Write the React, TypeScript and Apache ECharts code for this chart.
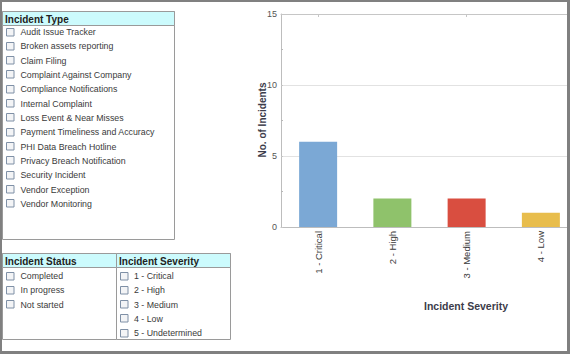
import React, { useEffect, useRef } from "react";
import * as echarts from "echarts";

const severityCategories = ["1 - Critical", "2 - High", "3 - Medium", "4 - Low"];
const incidentCounts = [6, 2, 2, 1];
const barColors = ["#7ba8d5", "#8fc26b", "#d94e40", "#e8bd4c"];

const incidentTypes = [
  "Audit Issue Tracker",
  "Broken assets reporting",
  "Claim Filing",
  "Complaint Against Company",
  "Compliance Notifications",
  "Internal Complaint",
  "Loss Event & Near Misses",
  "Payment Timeliness and Accuracy",
  "PHI Data Breach Hotline",
  "Privacy Breach Notification",
  "Security Incident",
  "Vendor Exception",
  "Vendor Monitoring",
];
const incidentStatuses = ["Completed", "In progress", "Not started"];
const incidentSeverities = ["1 - Critical", "2 - High", "3 - Medium", "4 - Low", "5 - Undetermined"];

const FONT = "'Liberation Sans', Arial, sans-serif";
const CHART_W = 580;

function panel(
  title: string,
  items: string[],
  x: number,
  y: number,
  w: number,
  h: number,
  firstRow: number,
  rowStep: number,
  textX: number
): any[] {
  const els: any[] = [];
  els.push({
    type: "rect",
    shape: { x: x + 0.5, y: y + 0.5, width: w, height: h },
    style: { fill: "#fff", stroke: "#9a9a9a", lineWidth: 1 },
    z: 1,
  });
  els.push({
    type: "rect",
    shape: { x: x + 0.5, y: y + 0.5, width: w, height: 14 },
    style: { fill: "#ccfbfd", stroke: "#9a9a9a", lineWidth: 1 },
    z: 2,
  });
  els.push({
    type: "text",
    x: x + 3,
    y: y + 8,
    style: {
      text: title,
      font: `bold 10px ${FONT}`,
      fill: "#222",
      align: "left",
      verticalAlign: "middle",
    },
    z: 3,
  });
  items.forEach((t, i) => {
    const cy = firstRow + i * rowStep;
    els.push({
      type: "rect",
      shape: { x: x + 4.5, y: Math.round(cy - 4) + 0.5, width: 7.5, height: 7.5 },
      style: { fill: "#f3f4f6", stroke: "#7f90a6", lineWidth: 1 },
      z: 3,
    });
    els.push({
      type: "text",
      x: textX,
      y: cy + 0.5,
      style: {
        text: t,
        font: `8.8px ${FONT}`,
        fill: "#3a3a3a",
        align: "left",
        verticalAlign: "middle",
      },
      z: 3,
    });
  });
  return els;
}

export default function App() {
  const ref = useRef<HTMLDivElement>(null);

  useEffect(() => {
    if (!ref.current) return;
    const chart = echarts.init(ref.current, null, { renderer: "svg" });

    const graphics: any[] = [
      ...panel("Incident Type", incidentTypes, 2, 11, 172, 228, 31.5, 14.33, 20.5),
      ...panel("Incident Status", incidentStatuses, 2, 253, 114, 86, 275.5, 14.3, 20.5),
      ...panel("Incident Severity", incidentSeverities, 116, 253, 114, 86, 275.5, 14.3, 134),
      {
        type: "text",
        x: 262,
        y: 120,
        rotation: Math.PI / 2,
        style: {
          text: "No. of Incidents",
          font: `bold 10px ${FONT}`,
          fill: "#3c3c4a",
          align: "center",
          verticalAlign: "middle",
        },
        z: 5,
      },
      {
        type: "text",
        x: 466,
        y: 306,
        style: {
          text: "Incident Severity",
          font: `bold 10.5px ${FONT}`,
          fill: "#3c3c4a",
          align: "center",
          verticalAlign: "middle",
        },
        z: 5,
      },
      // outer frame
      { type: "rect", shape: { x: 0, y: 0, width: CHART_W, height: 2 }, style: { fill: "#808080" }, z: 100 },
      { type: "rect", shape: { x: 0, y: 0, width: 2, height: 354 }, style: { fill: "#808080" }, z: 100 },
      { type: "rect", shape: { x: 567, y: 0, width: CHART_W - 567, height: 354 }, style: { fill: "#808080" }, z: 100 },
      { type: "rect", shape: { x: 0, y: 351, width: CHART_W, height: 3 }, style: { fill: "#808080" }, z: 100 },
    ];

    chart.setOption({
      animation: false,
      backgroundColor: "#ffffff",
      textStyle: { fontFamily: FONT },
      grid: { left: 281, top: 14, right: CHART_W - 578, bottom: 127, containLabel: false },
      xAxis: [
        {
          type: "category",
          data: severityCategories,
          position: "bottom",
          axisLine: { lineStyle: { color: "#bdbdbd" } },
          axisTick: { show: false },
          axisLabel: { rotate: 90, margin: 4, fontSize: 9.5, color: "#3a3a3a", fontFamily: FONT },
        },
        {
          type: "category",
          data: severityCategories,
          position: "top",
          axisLine: { show: true, lineStyle: { color: "#c6c6c6" } },
          axisTick: { show: true, inside: true, alignWithLabel: true, length: 3, lineStyle: { color: "#c6c6c6" } },
          axisLabel: { show: false },
        },
      ],
      yAxis: {
        type: "value",
        min: 0,
        max: 15,
        interval: 5,
        axisLine: { show: true, lineStyle: { color: "#bdbdbd" } },
        axisTick: { show: true, inside: true, length: 2, lineStyle: { color: "#c6c6c6" } },
        minorTick: { show: true, splitNumber: 2, length: 2, lineStyle: { color: "#b8b8b8" } },
        splitLine: { show: true, lineStyle: { color: "#e2e2e2" } },
        axisLabel: { fontSize: 9, color: "#555", margin: 4, fontFamily: FONT },
      },
      series: [
        {
          type: "bar",
          xAxisIndex: 0,
          barWidth: 38,
          data: incidentCounts.map((v, i) => ({ value: v, itemStyle: { color: barColors[i] } })),
        },
      ],
      graphic: graphics,
    });

    return () => chart.dispose();
  }, []);

  return (
    <div
      style={{ position: "fixed", left: 0, top: 0, width: 570, height: 354, overflow: "hidden", background: "#fff" }}
    >
      <div ref={ref} style={{ width: CHART_W, height: 354 }} />
    </div>
  );
}
